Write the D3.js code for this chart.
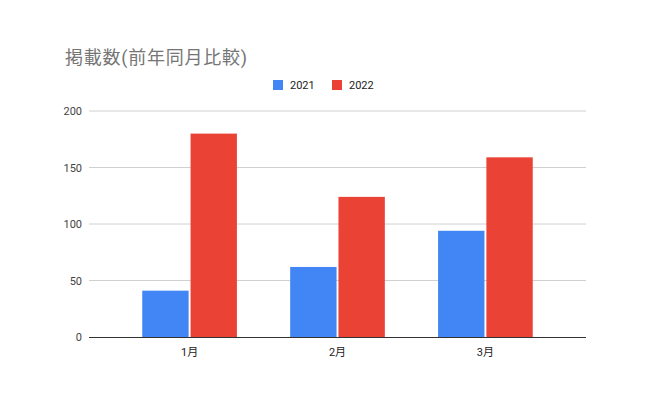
<!DOCTYPE html>
<html>
<head>
<meta charset="utf-8">
<script src="https://cdn.jsdelivr.net/npm/d3@7"></script>
<style>
  body { margin: 0; background: #fff; }
  svg { display: block; }
  text { font-family: Roboto, "Noto Sans CJK JP", sans-serif; }
</style>
</head>
<body>
<svg width="650" height="403"></svg>
<script>
const months = ['1月', '2月', '3月'];
const seriesNames = ['2021', '2022'];
const values2021 = [41, 62, 94];
const values2022 = [180, 124, 159];
const yTicks = [0, 50, 100, 150, 200];
const colors = ['#4285f4', '#ea4335'];

const svg = d3.select('svg');
const margin = { left: 89, right: 64, top: 111, bottom: 66 };
const width = 650 - margin.left - margin.right;
const height = 403 - margin.top - margin.bottom;

// title
svg.append('text')
  .attr('x', 65)
  .attr('y', 64)
  .attr('font-size', 18)
  .attr('fill', '#757575')
  .attr('font-family', '"Noto Sans CJK JP", sans-serif')
  .attr('textLength', 182)
  .attr('lengthAdjust', 'spacing')
  .text('掲載数(前年同月比較)');

const g = svg.append('g')
  .attr('transform', `translate(${margin.left},${margin.top})`);

const x = d3.scaleBand()
  .domain(months)
  .range([0, width])
  .paddingInner(0.36)
  .paddingOuter(0.36);

const xInner = d3.scaleBand()
  .domain(seriesNames)
  .range([0, x.bandwidth()])
  .paddingInner(0.04);

const y = d3.scaleLinear()
  .domain([0, 200])
  .range([height, 0]);

// gridlines
g.append('g')
  .selectAll('line')
  .data(yTicks.filter((d) => d > 0))
  .enter()
  .append('line')
  .attr('x1', 0)
  .attr('x2', width)
  .attr('y1', (d) => y(d))
  .attr('y2', (d) => y(d))
  .attr('stroke', '#d0d0d0')
  .attr('stroke-width', 1);

// y labels
g.append('g')
  .selectAll('text')
  .data(yTicks)
  .enter()
  .append('text')
  .attr('x', -7)
  .attr('y', (d) => y(d) + 4)
  .attr('text-anchor', 'end')
  .attr('font-size', 11)
  .attr('fill', '#444')
  .text((d) => d);

// bars
const data = months.map((m, i) => ({ month: m, vals: [values2021[i], values2022[i]] }));

const groups = g.append('g')
  .selectAll('g')
  .data(data)
  .enter()
  .append('g')
  .attr('transform', (d) => `translate(${x(d.month)},0)`);

groups.selectAll('rect')
  .data((d) => d.vals.map((v, i) => ({ key: seriesNames[i], v, i })))
  .enter()
  .append('rect')
  .attr('x', (d) => xInner(d.key))
  .attr('width', xInner.bandwidth())
  .attr('y', (d) => y(d.v))
  .attr('height', (d) => height - y(d.v))
  .attr('fill', (d) => colors[d.i]);

// baseline
g.append('line')
  .attr('x1', 0)
  .attr('x2', width)
  .attr('y1', y(0) + 0.5)
  .attr('y2', y(0) + 0.5)
  .attr('stroke', '#333')
  .attr('stroke-width', 1);

// x labels
g.append('g')
  .selectAll('text')
  .data(months)
  .enter()
  .append('text')
  .attr('x', (d) => x(d) + x.bandwidth() / 2)
  .attr('y', height + 19)
  .attr('text-anchor', 'middle')
  .attr('font-size', 11)
  .attr('fill', '#222')
  .text((d) => d);

// legend
const legend = svg.append('g');
const legendX = [273, 332];
seriesNames.forEach((name, i) => {
  legend.append('rect')
    .attr('x', legendX[i])
    .attr('y', 80)
    .attr('width', 10)
    .attr('height', 10)
    .attr('fill', colors[i]);
  legend.append('text')
    .attr('x', legendX[i] + 17)
    .attr('y', 89)
    .attr('font-size', 11)
    .attr('fill', '#222')
    .text(name);
});
</script>
</body>
</html>
